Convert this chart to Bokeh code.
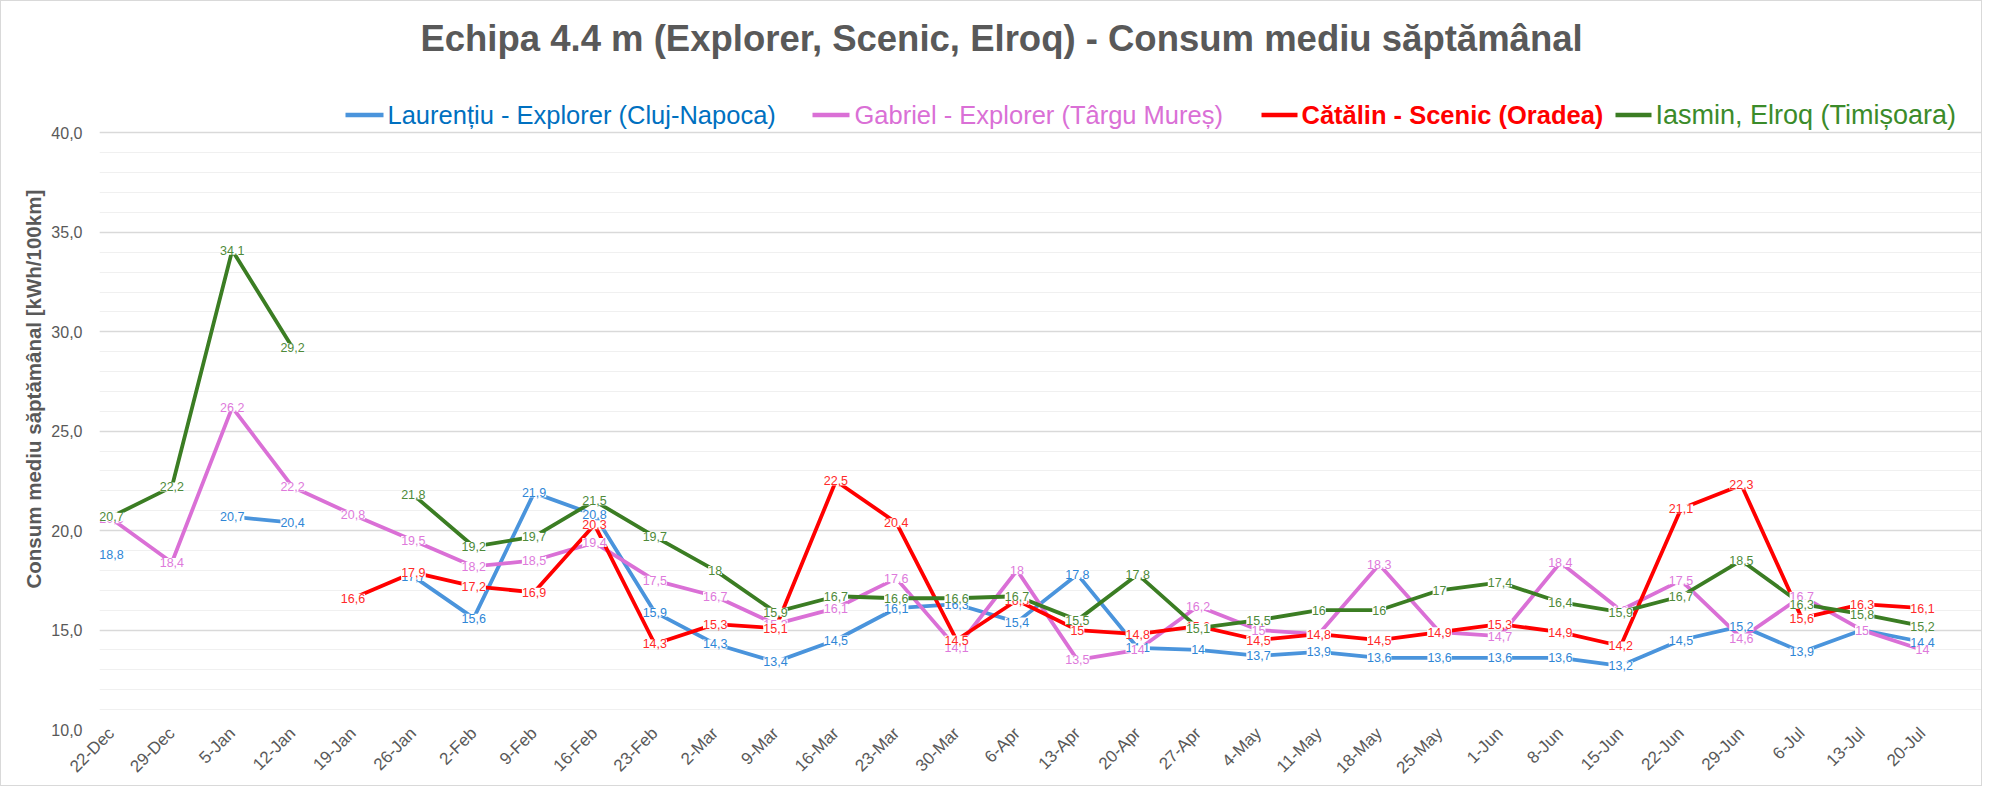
import math
from bokeh.plotting import figure
from bokeh.models import ColumnDataSource, LabelSet, Label, FixedTicker, Range1d, Title
from bokeh.core.properties import value
from bokeh.embed import file_html
from bokeh.resources import INLINE

NaN = float("nan")

weeks = ["22-Dec", "29-Dec", "5-Jan", "12-Jan", "19-Jan", "26-Jan", "2-Feb", "9-Feb",
         "16-Feb", "23-Feb", "2-Mar", "9-Mar", "16-Mar", "23-Mar", "30-Mar", "6-Apr",
         "13-Apr", "20-Apr", "27-Apr", "4-May", "11-May", "18-May", "25-May", "1-Jun",
         "8-Jun", "15-Jun", "22-Jun", "29-Jun", "6-Jul", "13-Jul", "20-Jul"]

laurentiu = [18.8, NaN, 20.7, 20.4, NaN, 17.7, 15.6, 21.9, 20.8, 15.9, 14.3, 13.4, 14.5, 16.1,
             16.3, 15.4, 17.8, 14.1, 14.0, 13.7, 13.9, 13.6, 13.6, 13.6, 13.6, 13.2, 14.5, 15.2,
             13.9, 15.0, 14.4]
gabriel = [20.6, 18.4, 26.2, 22.2, 20.8, 19.5, 18.2, 18.5, 19.4, 17.5, 16.7, 15.3, 16.1, 17.6,
           14.1, 18.0, 13.5, 14.0, 16.2, 15.0, 14.8, 18.3, 14.9, 14.7, 18.4, 16.0, 17.5, 14.6,
           16.7, 15.0, 14.0]
catalin = [NaN, NaN, NaN, NaN, 16.6, 17.9, 17.2, 16.9, 20.3, 14.3, 15.3, 15.1, 22.5, 20.4,
           14.5, 16.5, 15.0, 14.8, 15.2, 14.5, 14.8, 14.5, 14.9, 15.3, 14.9, 14.2, 21.1, 22.3,
           15.6, 16.3, 16.1]
iasmin = [20.7, 22.2, 34.1, 29.2, NaN, 21.8, 19.2, 19.7, 21.5, 19.7, 18.0, 15.9, 16.7, 16.6,
          16.6, 16.7, 15.5, 17.8, 15.1, 15.5, 16.0, 16.0, 17.0, 17.4, 16.4, 15.9, 16.7, 18.5,
          16.3, 15.8, 15.2]

series_names = ["Laurențiu - Explorer (Cluj-Napoca)", "Gabriel - Explorer (Târgu Mureș)",
                "Cătălin - Scenic (Oradea)", "Iasmin, Elroq (Timișoara)"]
series_values = [laurentiu, gabriel, catalin, iasmin]
line_colors = ["#4A94DC", "#DA70D6", "#FF0000", "#3B7D23"]
label_colors = ["#2F86D6", "#DE7ADB", "#FF2A2A", "#4E8A3A"]
legend_colors = ["#0070C0", "#DA70D6", "#FF0000", "#3B8B2A"]
legend_bold = [False, False, True, False]
legend_sizes = ["25.5px", "25.5px", "25.5px", "27px"]

title_text = "Echipa 4.4 m (Explorer, Scenic, Elroq) - Consum mediu săptămânal"
y_title = "Consum mediu săptămânal [kWh/100km]"
y_ticks = [10, 15, 20, 25, 30, 35, 40]
Y_MIN, Y_MAX = 10, 40

# ---- layout geometry (pixels inside the figure canvas) ----
W, H = 1982, 786
FRAME_L, FRAME_R = 98, 1980          # frame spans these canvas x pixels
FIRST_X, LAST_X = 110, 1921          # pixel positions of first / last category
Y_MAX_PX, Y_MIN_PX = 132, 731        # pixel rows of y=40 and y=10
px_per_x = (LAST_X - FIRST_X) / (len(weeks) - 1)
px_per_y = (Y_MIN_PX - Y_MAX_PX) / (Y_MAX - Y_MIN)
x_start = -(FIRST_X - FRAME_L) / px_per_x
x_end = (len(weeks) - 1) + (FRAME_R - LAST_X) / px_per_x
y_top = Y_MAX + Y_MAX_PX / px_per_y


def dx(px):
    return x_start + (px - FRAME_L) / px_per_x


def dy(py):
    return y_top - py / px_per_y


p = figure(width=W, height=H, x_range=Range1d(x_start, x_end), y_range=Range1d(Y_MIN, y_top),
           output_backend="svg", toolbar_location=None,
           min_border_left=FRAME_L, min_border_right=W - FRAME_R, min_border_top=0,
           min_border_bottom=H - Y_MIN_PX)
p.styles = {"border": "1px solid #D9D9D9"}
p.outline_line_color = None
p.background_fill_color = "white"
p.border_fill_color = "white"

p.xgrid.grid_line_color = None
p.yaxis.ticker = FixedTicker(ticks=y_ticks, minor_ticks=list(range(Y_MIN, Y_MAX + 1)))
p.ygrid.grid_line_color = "#D9D9D9"
p.ygrid.grid_line_width = 1.5
p.ygrid.minor_grid_line_color = "#F0F0F0"
p.ygrid.minor_grid_line_width = 1

p.yaxis.major_label_overrides = {t: f"{t},0" for t in y_ticks}
p.yaxis.axis_line_color = None
p.yaxis.major_tick_line_color = None
p.yaxis.minor_tick_line_color = None
p.yaxis.major_tick_out = 0
p.yaxis.major_tick_in = 0
p.yaxis.major_label_text_font = "Liberation Sans"
p.yaxis.major_label_text_font_size = "16px"
p.yaxis.major_label_text_color = "#595959"
p.yaxis.major_label_standoff = 13

p.xaxis.ticker = FixedTicker(ticks=list(range(len(weeks))))
p.xaxis.major_label_overrides = {i: w for i, w in enumerate(weeks)}
p.xaxis.axis_line_color = None
p.xaxis.major_tick_line_color = None
p.xaxis.minor_tick_line_color = None
p.xaxis.major_tick_out = 0
p.xaxis.major_tick_in = 0
p.xaxis.major_label_orientation = math.pi / 4
p.xaxis.major_label_text_font = "Liberation Sans"
p.xaxis.major_label_text_font_size = "17px"
p.xaxis.major_label_text_color = "#595959"
p.xaxis.major_label_standoff = 1


def fmt(v):
    s = f"{v:.1f}"
    if s.endswith(".0"):
        s = s[:-2]
    return s.replace(".", ",")


xs = list(range(len(weeks)))
for vals, lc in zip(series_values, line_colors):
    src = ColumnDataSource(dict(x=xs, y=vals))
    p.line("x", "y", source=src, line_color=lc, line_width=3.8)

for vals, tc in zip(series_values, label_colors):
    pts = [(i, v) for i, v in enumerate(vals) if not math.isnan(v)]
    src = ColumnDataSource(dict(x=[a for a, _ in pts], y=[b for _, b in pts],
                                t=[fmt(b) for _, b in pts]))
    p.add_layout(LabelSet(x="x", y="y", text="t", source=src, text_align="center",
                          text_baseline="middle", text_font_size=value("12.5px"),
                          text_font=value("Liberation Sans"), text_color=tc,
                          background_fill_color="white"))

# chart title
p.add_layout(Label(x=dx(1000), y=dy(37), text=title_text,
                   text_align="center", text_baseline="middle", text_font="Liberation Sans",
                   text_font_style="bold", text_font_size="36.5px", text_color="#595959"))

# legend (custom, coloured texts)
leg_y = dy(114)
sample_px = [(344, 382), (811, 848), (1260, 1296), (1614, 1650)]
text_px = [386, 853, 1300, 1654]
for name, lc, tc, b, fs, (a, e), t in zip(series_names, line_colors, legend_colors, legend_bold,
                                         legend_sizes, sample_px, text_px):
    p.segment(x0=[dx(a)], y0=[leg_y], x1=[dx(e)], y1=[leg_y], line_color=lc, line_width=4.5)
    p.add_layout(Label(x=dx(t), y=leg_y, text=name,
                       text_align="left", text_baseline="middle", text_font="Liberation Sans",
                       text_font_style="bold" if b else "normal",
                       text_font_size=fs, text_color=tc))

# y axis title
p.add_layout(Title(text=y_title, align="left", offset=141, vertical_align="middle",
                   text_font="Liberation Sans", text_font_style="bold",
                   text_font_size="20.5px", text_color="#595959", standoff=6), "left")

open("out.html", "w").write(file_html(p, INLINE))
